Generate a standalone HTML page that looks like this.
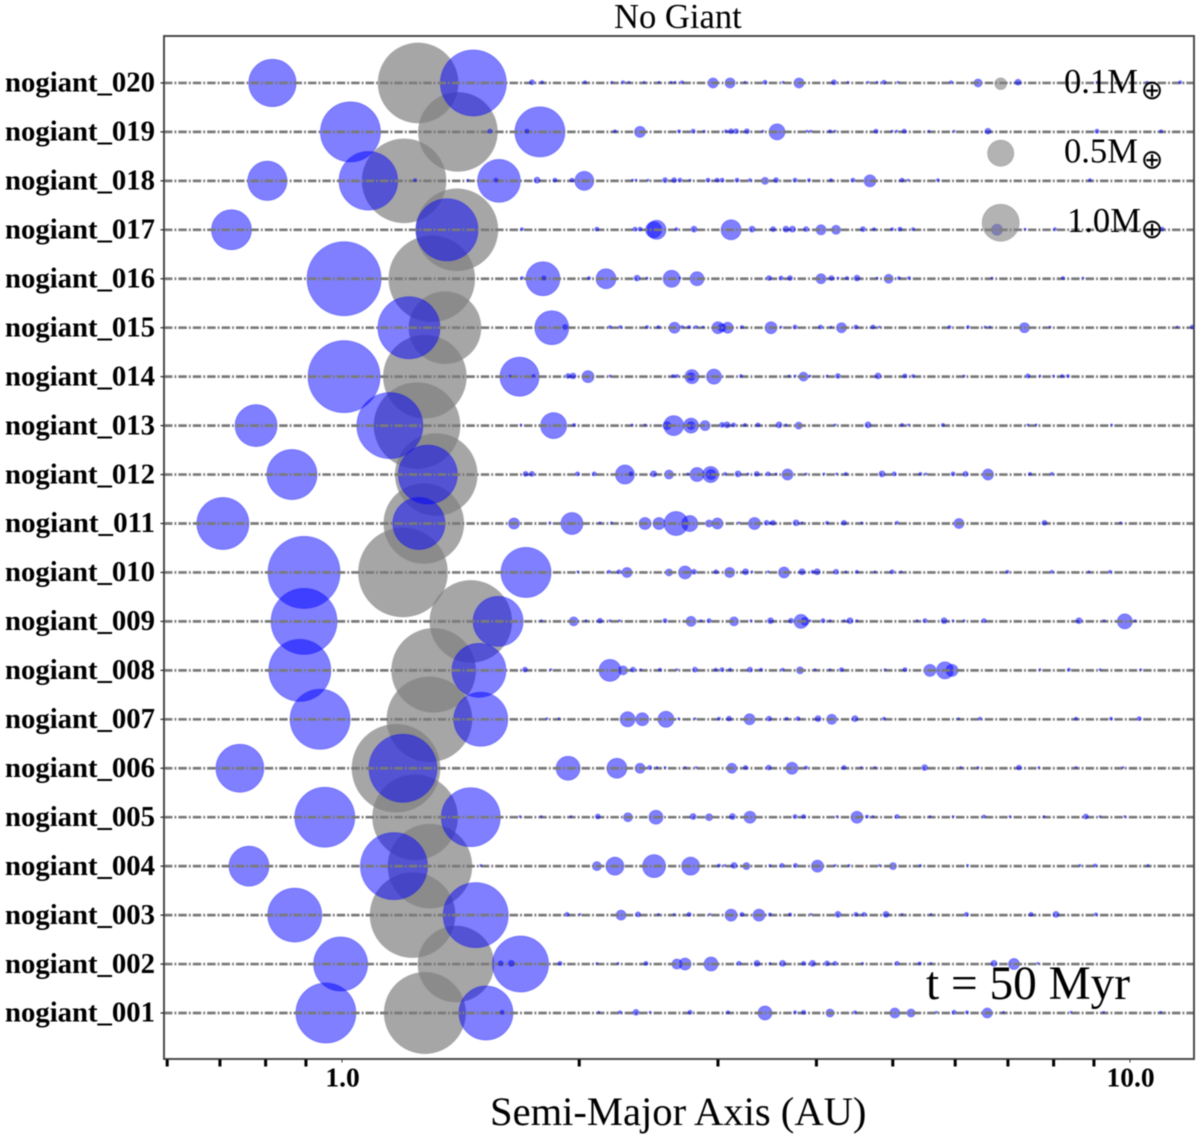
<!DOCTYPE html>
<html lang="en">
<head>
<meta charset="utf-8">
<title>No Giant - Semi-Major Axis</title>
<style>
html,body{margin:0;padding:0;background:#fff;width:1200px;height:1138px;overflow:hidden}
svg{display:block;filter:blur(0.6px)}
text{font-family:"Liberation Serif",serif;fill:#000}
</style>
</head>
<body>
<svg id="chart" xmlns="http://www.w3.org/2000/svg" width="1200" height="1138" viewBox="0 0 1200 1138">
  <rect x="0" y="0" width="1200" height="1138" fill="#fff"/>
  <g id="giants"></g>
  <g id="planets"></g>
  <g id="lines"></g>
  <g id="tiny"></g>
  <g id="legend"></g>
  <rect x="164" y="36" width="1030" height="1023" fill="none" stroke="#444" stroke-width="1.9"/>
  <g id="ticks"></g>
  <g id="labels"></g>
  <text x="614" y="28" font-size="34.6">No Giant</text>
  <text x="490" y="1125" font-size="40.6">Semi-Major Axis (AU)</text>
  <text x="926" y="999" font-size="47.3">t = 50 Myr</text>
</svg>
<script>
const categories=["nogiant_001","nogiant_002","nogiant_003","nogiant_004","nogiant_005","nogiant_006","nogiant_007","nogiant_008","nogiant_009","nogiant_010","nogiant_011","nogiant_012","nogiant_013","nogiant_014","nogiant_015","nogiant_016","nogiant_017","nogiant_018","nogiant_019","nogiant_020"];
const giantA=[1.274,1.395,1.229,1.293,1.238,1.171,1.291,1.307,1.457,1.195,1.27,1.317,1.245,1.274,1.351,1.30,1.399,1.199,1.403,1.249];
const giantM=[4.84,4.22,5.28,5.15,5.28,5.66,5.28,5.15,4.91,5.79,4.68,4.91,5.4,5.03,3.79,5.4,4.91,5.15,4.56,4.68];
const majorTicks=[1,10];
const majorTickLabels=["1.0","10.0"];
const minorTicks=[0.6,0.7,0.8,0.9,2,3,4,5,6,7,8,9];
const legendMass=[0.1,0.5,1.0];
const legendText=["0.1M","0.5M","1.0M"];
const a020=[.816,1.468,1.742,1.794,2.034,2.201,2.273,2.313,2.418,2.525,2.616,2.646,2.701,2.957,3.108,3.247,3.442,3.628,3.802,4.21,4.386,4.651,4.775,4.873,5.077,5.927,6.414,7.21,9.08,10.51,11.58];
const m020=[1.64,3.18,.018,.0066,.0066,.003,.0066,.003,.003,.003,.003,.003,.0066,.073,.073,.003,.012,.003,.073,.018,.003,.003,.003,.012,.003,.0066,.047,.026,.003,.003,.0066];
const a019=[1.025,1.783,1.541,1.717,2.22,2.389,2.677,2.79,2.88,3.07,3.117,3.163,3.265,3.42,3.565,3.892,3.937,4.162,4.224,4.76,4.99,5.06,5.17,5.558,5.98,6.604,9.08,10.95];
const m019=[2.63,1.83,.012,.012,.0066,.088,.0066,.012,.003,.0066,.018,.018,.018,.003,.187,.003,.003,.0066,.003,.012,.003,.003,.012,.003,.003,.026,.012,.0066];
const a018=[.804,1.08,1.582,2.03,1.238,1.445,1.568,1.768,1.863,1.958,2.337,2.361,2.446,2.57,2.639,2.685,2.765,2.914,2.992,3.036,3.172,3.294,3.442,3.555,3.758,3.914,4.174,4.451,4.678,5.137,5.228,5.706,8.896];
const m018=[1.13,2.51,1.34,.264,.0066,.003,.012,.026,.012,.012,.003,.003,.003,.018,.018,.012,.003,.012,.012,.012,.012,.0066,.036,.018,.012,.0066,.0066,.012,.105,.012,.003,.0066,.0066];
const a017=[.724,1.359,1.692,2.106,2.354,2.389,2.486,2.507,2.657,2.797,3.117,3.314,3.524,3.66,3.73,3.881,4.054,4.236,4.583,4.733,4.99,5.107,5.305,6.78,7.358,8.03,10.98];
const m017=[1.17,2.81,.0066,.012,.012,.012,.187,.264,.0066,.026,.292,.026,.018,.026,.026,.018,.073,.059,.018,.0066,.0066,.012,.0066,.088,.003,.0066,.012];
const a016=[1.006,1.799,2.163,1.692,1.804,2.058,2.368,2.438,2.62,2.685,2.822,3.483,3.607,3.703,4.054,4.18,4.26,4.373,4.503,4.775,4.94,5.09,5.243,6.68,8.22,8.716];
const m016=[4,.844,.292,.0066,.012,.0066,.026,.003,.211,.003,.143,.018,.012,.018,.073,.018,.003,.0066,.026,.003,.059,.0066,.0066,.003,.0066,.003];
const a015=[1.216,1.846,1.919,2.188,2.256,2.438,2.521,2.642,2.701,2.757,2.814,2.872,3.0,3.036,3.087,3.218,3.503,3.607,3.758,4.048,4.174,4.304,4.49,4.719,4.81,5.9,6.23,6.546,6.642,7.347,7.915,11.48,12.0];
const m015=[2.81,.844,.018,.0066,.0066,.0066,.0066,.088,.0066,.0066,.0066,.003,.105,.047,.088,.0066,.105,.003,.012,.012,.003,.073,.012,.012,.003,.0066,.0066,.003,.003,.073,.003,.003,.012];
const a014=[1.006,1.68,1.634,1.75,1.936,1.964,2.052,2.188,2.631,2.661,2.78,2.773,2.965,3.209,3.692,3.758,3.852,3.926,4.126,4.26,4.789,5.18,5.305,6.157,7.42,7.687,7.996,8.2,8.34];
const m014=[3.79,1.12,.003,.0066,.018,.026,.105,.003,.0066,.0066,.143,.047,.164,.0066,.003,.003,.059,.003,.003,.018,.026,.012,.0066,.003,.012,.003,.003,.0066,.0066];
const a013=[.778,1.15,1.856,1.687,1.97,2.334,2.424,2.585,2.636,2.773,2.773,2.889,3.036,3.08,3.14,3.247,3.372,3.586,3.66,3.798,4.224,4.651,5.137,5.235,5.79,7.42,7.6,9.476];
const m013=[1.29,3.18,.494,.003,.0066,.003,.003,.047,.292,.164,.047,.073,.018,.026,.012,.0066,.012,.026,.003,.036,.003,.026,.0066,.003,.0066,.003,.003,.003];
const a012=[.864,1.285,1.71,1.742,1.99,2.09,2.286,2.327,2.486,2.6,2.749,2.822,2.937,2.94,3.063,3.181,3.275,3.36,3.473,3.555,3.676,3.881,4.09,4.243,4.36,4.845,5.02,5.42,5.51,5.963,6.185,6.604,7.466,7.96];
const m012=[1.83,2.54,.018,.018,.012,.012,.264,.012,.026,.059,.003,.143,.187,.073,.0066,.026,.003,.018,.012,.003,.088,.003,.003,.003,.0066,.026,.012,.0066,.003,.012,.018,.088,.0066,.0066];
const a011=[.706,1.252,1.653,1.958,2.125,2.198,1.836,2.424,2.525,2.654,2.763,2.923,2.995,3.19,3.338,3.458,3.498,3.524,3.769,3.835,4.126,4.335,4.565,5.062,6.067,7.79,9.726];
const m011=[1.98,1.98,.088,.354,.003,.003,.003,.105,.105,.421,.187,.036,.088,.003,.105,.018,.003,.018,.026,.003,.0066,.018,.003,.0066,.073,.018,.003];
const a010=[.895,1.712,1.992,2.182,2.247,2.3,2.6,2.725,2.797,2.983,3.104,3.252,3.314,3.473,3.639,3.835,3.955,4.008,4.236,4.36,4.503,4.747,4.99,5.122,6.99,7.96,8.87,9.432];
const m010=[3.79,1.83,.003,.0066,.012,.073,.036,.123,.018,.012,.073,.026,.003,.003,.088,.026,.0066,.026,.018,.003,.0066,.003,.012,.003,.0066,.0066,.003,.0066];
const a009=[.895,1.578,1.79,1.968,2.04,2.125,2.188,2.25,2.57,2.773,2.855,2.923,3.144,3.304,3.498,3.714,3.824,3.869,3.926,4.078,4.162,4.335,4.412,4.503,5.367,5.494,5.808,5.963,6.157,6.527,8.615,9.27,9.85,10.15];
const m009=[3.18,1.83,.003,.059,.003,.018,.003,.003,.012,.073,.003,.012,.059,.003,.026,.018,.143,.047,.003,.012,.003,.003,.026,.003,.003,.012,.026,.003,.003,.012,.026,.003,.164,.003];
const a008=[.884,1.492,1.707,1.841,2.188,2.273,2.34,2.393,2.532,2.661,2.805,2.98,3.036,3.108,3.294,3.402,3.624,3.813,3.984,4.162,4.304,4.888,5.18,5.574,5.824,5.944,7.687,8.366,9.16,10.32];
const m008=[2.81,2.13,.018,.003,.354,.059,.018,.003,.0066,.003,.018,.0066,.012,.0066,.018,.0066,.0066,.036,.003,.003,.012,.003,.012,.105,.211,.105,.003,.0066,.003,.003];
const a007=[.938,1.5,1.82,1.885,2.304,2.405,2.577,2.674,2.806,3.009,3.099,3.29,3.483,3.666,3.79,4.019,4.183,4.477,4.873,6.058,6.451,8.54,9.46,10.27];
const m007=[2.63,2.13,.003,.003,.164,.123,.187,.003,.003,.0066,.018,.088,.018,.0066,.012,.026,.073,.026,.0066,.003,.0066,.0066,.0066,.012];
const a006=[.742,1.195,1.936,2.233,2.389,2.457,2.51,2.57,2.725,2.814,3.124,3.252,3.48,3.724,3.881,4.335,4.56,4.747,5.488,6.10,6.414,7.23,7.66,8.54,9.8];
const m006=[1.68,3.38,.421,.292,.073,.012,.003,.003,.003,.003,.073,.012,.018,.105,.0066,.012,.003,.003,.026,.003,.003,.018,.003,.003,.003];
const a005=[.951,1.457,1.682,1.79,1.952,2.112,2.306,2.503,2.79,2.923,3.13,3.294,3.758,3.853,4.248,4.503,4.637,4.719,5.062,5.574,5.963,6.527,7.042,7.78,8.79,9.16,9.85];
const m005=[2.63,2.54,.003,.003,.003,.018,.059,.143,.026,.036,.026,.105,.012,.012,.003,.105,.0066,.003,.012,.003,.003,.0066,.003,.003,.018,.003,.003];
const a004=[.762,1.164,1.5,2.106,2.22,2.489,2.77,3.009,3.06,3.144,3.26,3.493,3.617,3.763,4.012,4.224,4.399,4.81,5.003,5.42,6.22,8.64,9.03,10.54];
const m004=[1.17,3.28,.003,.059,.237,.386,.237,.0066,.003,.026,.036,.003,.012,.012,.105,.003,.003,.003,.036,.003,.003,.003,.0066,.003];
const a003=[.871,1.478,1.93,2.004,2.26,2.375,2.521,2.639,2.757,2.931,3.117,3.218,3.382,3.493,3.703,3.937,4.26,4.49,4.597,4.902,5.137,5.59,6.2,7.49,8.055,9.05];
const m003=[2.13,3.09,.012,.003,.073,.018,.003,.003,.012,.003,.105,.012,.105,.0066,.0066,.003,.026,.012,.012,.026,.003,.003,.012,.012,.026,.0066];
const a002=[.996,1.685,1.59,1.64,1.891,2.106,2.24,2.431,2.661,2.725,2.94,3.19,3.362,3.493,3.624,3.853,3.955,4.126,4.224,4.576,5.062,5.408,5.59,6.72,7.125,7.64];
const m002=[2.13,2.29,.018,.026,.012,.003,.003,.012,.073,.105,.143,.012,.026,.003,.026,.012,.026,.018,.012,.003,.012,.0066,.003,.026,.088,.003];
const a001=[.954,1.523,1.597,2.118,2.253,2.361,2.46,2.765,3.09,3.442,3.758,3.853,4.162,4.477,5.03,5.274,5.68,5.98,6.21,6.59,6.91,8.416,9.26,10.94];
const m001=[2.63,2.13,.012,.003,.0066,.026,.003,.012,.0066,.143,.0066,.012,.047,.0066,.073,.047,.003,.012,.0066,.073,.003,.003,.003,.003];

const seriesA=[a001,a002,a003,a004,a005,a006,a007,a008,a009,a010,a011,a012,a013,a014,a015,a016,a017,a018,a019,a020];
const seriesM=[m001,m002,m003,m004,m005,m006,m007,m008,m009,m010,m011,m012,m013,m014,m015,m016,m017,m018,m019,m020];

const NS='http://www.w3.org/2000/svg';
const X_AT_ONE=342, X_PER_DECADE=788, Y_BOTTOM_ROW=1013, Y_STEP=48.95, R_PER_SQRT_MASS=18.5;
const xScale=function(a){return X_AT_ONE+X_PER_DECADE*Math.log10(a);};
const yScale=function(i){return Y_BOTTOM_ROW-i*Y_STEP;};
const rScale=function(m){return R_PER_SQRT_MASS*Math.sqrt(m);};
const layer=function(id){return document.getElementById(id);};

function circle(parent,cx,cy,r,fill,stroke){
  const c=document.createElementNS(NS,'circle');
  c.setAttribute('cx',cx);
  c.setAttribute('cy',cy);
  c.setAttribute('r',r);
  c.setAttribute('fill',fill);
  c.setAttribute('stroke',stroke);
  c.setAttribute('stroke-width','1');
  parent.appendChild(c);
  return c;
}
function svgText(parent,x,y,size,content){
  const t=document.createElementNS(NS,'text');
  t.setAttribute('x',x);
  t.setAttribute('y',y);
  t.setAttribute('font-size',size);
  t.textContent=content;
  parent.appendChild(t);
  return t;
}
function line(parent,x1,y1,x2,y2,color,width){
  const l=document.createElementNS(NS,'line');
  l.setAttribute('x1',x1);
  l.setAttribute('y1',y1);
  l.setAttribute('x2',x2);
  l.setAttribute('y2',y2);
  l.setAttribute('stroke',color);
  l.setAttribute('stroke-width',width);
  parent.appendChild(l);
  return l;
}

categories.forEach(function(name,i){
  const y=yScale(i);
  const g=circle(layer('giants'),xScale(giantA[i]),y,rScale(giantM[i]),'rgba(128,128,128,0.7)','rgba(128,128,128,0.3)');
  
  

  seriesA[i].forEach(function(a,j){
    const m=seriesM[i][j];
    const target=m<0.03?layer('tiny'):layer('planets');
    const p=circle(target,xScale(a),m<0.03?y-0.7:y,rScale(m),'rgba(0,0,255,0.5)','rgba(0,0,255,0.3)');
    
    
  });

  const rowLine=line(layer('lines'),164,y,1194,y,'#7a7a7a',2.7);
  rowLine.setAttribute('stroke-dasharray','8.4 2.1 1.8 2.1');
  
  

  const yTick=line(layer('ticks'),160.5,y,164,y,'#222',1.2);
  
  

  const label=svgText(layer('labels'),5,y+8.7,28,name);
  label.setAttribute('font-weight','bold');
  label.setAttribute('textLength','150');
  label.setAttribute('lengthAdjust','spacingAndGlyphs');
  
  
});

minorTicks.forEach(function(v){
  const t=line(layer('ticks'),xScale(v),1059.5,xScale(v),1066.5,'#000',3);
  
  
});
majorTicks.forEach(function(v,i){
  const t=line(layer('ticks'),xScale(v),1059.5,xScale(v),1062.5,'#333',1);
  
  
  const l=svgText(layer('ticks'),xScale(v)+0.5,1086.5,27.5,majorTickLabels[i]);
  l.setAttribute('font-weight','bold');
  l.setAttribute('text-anchor','middle');
  
  
});

const LEGEND_X=1000.7;
const LEGEND_TOP=83.7, LEGEND_STEP=69.5;
legendMass.forEach(function(m,i){
  const cy=LEGEND_TOP+i*LEGEND_STEP;
  const c=circle(layer('legend'),LEGEND_X,cy,rScale(m),'rgba(128,128,128,0.6)','rgba(128,128,128,0.4)');
  
  
  const t=svgText(layer('legend'),i===2?1067:1064,cy+9.3,34.6,legendText[i]);
  
  
  const e=svgText(layer('legend'),1152,cy+15.5,27,'\u2295');
  e.setAttribute('text-anchor','middle');
  e.setAttribute('style','font-family:"DejaVu Sans",sans-serif');
  
  
});
</script>
</body>
</html>
